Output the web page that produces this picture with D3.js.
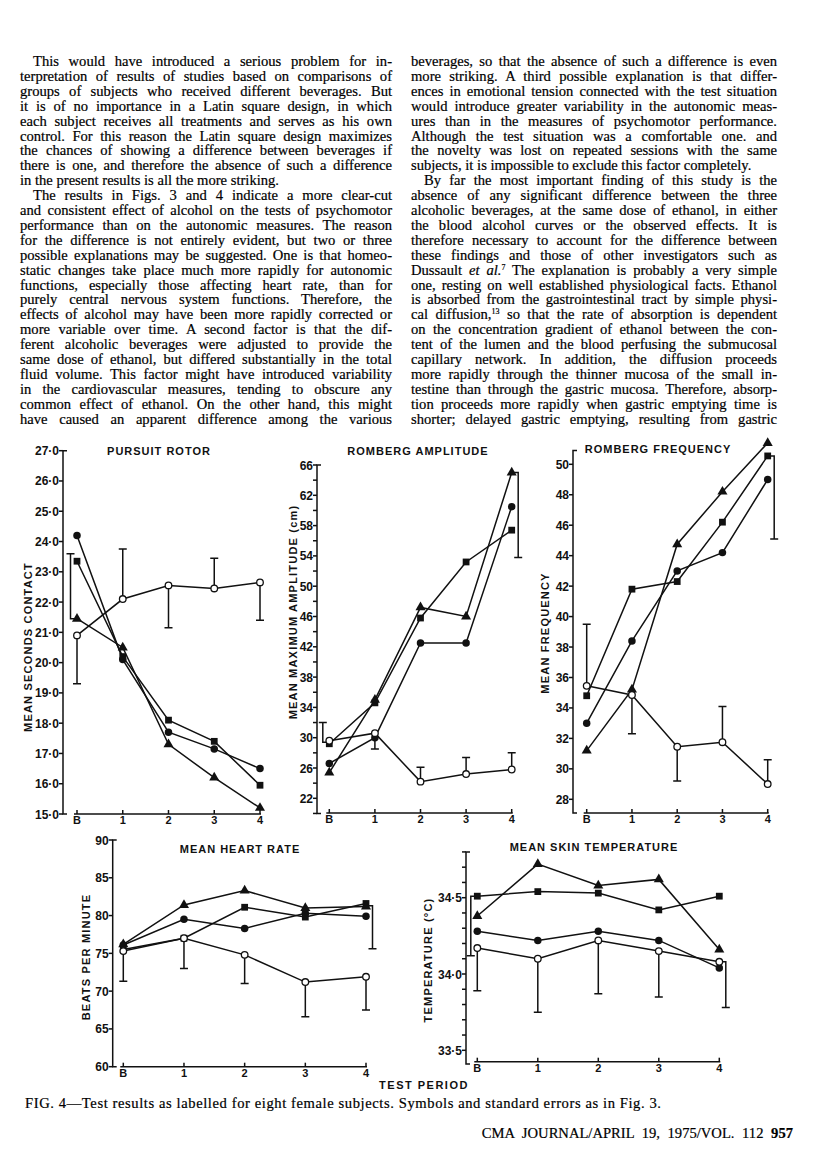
<!DOCTYPE html>
<html>
<head>
<meta charset="utf-8">
<script src="https://cdn.jsdelivr.net/npm/d3@7/dist/d3.min.js"></script>
<style>
body { margin: 0; background: #fff; }
svg { display: block; }
.body-text { font-family: "Liberation Serif", "Times New Roman", serif; font-size: 14.6px; fill: #000; stroke: #000; stroke-width: 0.2px; }
.chart-text { font-family: "Liberation Sans", Arial, sans-serif; font-weight: bold; fill: #111; }
</style>
</head>
<body>
<script>
var periods = ["B", "1", "2", "3", "4"];

// PURSUIT ROTOR - mean seconds contact
var rotorOpen     = [20.9, 22.1, 22.55, 22.45, 22.65];
var rotorCircle   = [24.2, 20.1, 17.7, 17.15, 16.5];
var rotorSquare   = [23.35, 20.2, 18.1, 17.4, 15.95];
var rotorTriangle = [21.45, 20.5, 17.3, 16.2, 15.2];
var rotorErr      = [19.3, 23.75, 21.15, 23.45, 21.4];
var rotorBrackets = [{period: "B", side: "left", from: 21.45, to: 23.6}];
var rotorTicks    = [15, 16, 17, 18, 19, 20, 21, 22, 23, 24, 25, 26, 27];

// ROMBERG AMPLITUDE - mean maximum amplitude (cm)
var ampOpen     = [29.6, 30.6, 24.2, 25.2, 25.8];
var ampCircle   = [26.6, 30.0, 42.5, 42.5, 60.5];
var ampSquare   = [29.2, 34.6, 45.8, 53.2, 57.4];
var ampTriangle = [25.4, 35.0, 47.2, 46.0, 65.0];
var ampErr      = [null, 28.5, 26.1, 27.4, 28.0];
var ampBrackets = [{period: "B", side: "left", from: 29.4, to: 32.0},
                   {period: "4", side: "right", from: 65.0, to: 53.8}];
var ampTicks    = [22, 26, 30, 34, 38, 42, 46, 50, 54, 58, 62, 66];
var ampMinor    = [20, 24, 28, 32, 36, 40, 44, 48, 52, 56, 60, 64];

// ROMBERG FREQUENCY - mean frequency
var freqOpen     = [35.45, 34.85, 31.45, 31.75, 29.0];
var freqCircle   = [33.0, 38.4, 43.0, 44.2, 49.0];
var freqSquare   = [34.8, 41.8, 42.3, 46.2, 50.55];
var freqTriangle = [31.2, 35.2, 44.75, 48.2, 51.4];
var freqErr      = [39.5, 32.3, 29.2, 34.1, 30.6];
var freqBrackets = [{period: "4", side: "right", from: 50.55, to: 45.1}];
var freqTicks    = [28, 30, 32, 34, 36, 38, 40, 42, 44, 46, 48, 50];

// MEAN HEART RATE - beats per minute
var heartOpen     = [75.3, 77.0, 74.8, 71.2, 71.9];
var heartCircle   = [76.1, 79.5, 78.3, 80.3, 79.9];
var heartSquare   = [75.5, 77.0, 81.1, 79.8, 81.6];
var heartTriangle = [76.2, 81.4, 83.3, 81.0, 81.2];
var heartErr      = [71.3, 73.0, 71.0, 66.6, 67.5];
var heartBrackets = [{period: "4", side: "right", from: 81.3, to: 75.6}];
var heartTicks    = [60, 65, 70, 75, 80, 85, 90];

// MEAN SKIN TEMPERATURE - temperature (°C)
var skinOpen     = [34.17, 34.10, 34.22, 34.15, 34.08];
var skinCircle   = [34.28, 34.22, 34.28, 34.22, 34.04];
var skinSquare   = [34.51, 34.54, 34.53, 34.42, 34.51];
var skinTriangle = [34.38, 34.72, 34.58, 34.62, 34.16];
var skinErr      = [33.89, 33.75, 33.87, 33.85, null];
var skinBrackets = [{period: "B", side: "left", from: 34.51, to: 34.12},
                    {period: "4", side: "right", from: 34.08, to: 33.78}];
var skinTicks    = [33.5, 34.0, 34.5];
var skinMinor    = [33.6, 33.7, 33.8, 33.9, 34.1, 34.2, 34.3, 34.4, 34.6, 34.7, 34.8];

// article text, "  " at start = new paragraph, {i:..} italic, {s:..} superscript
var leftLines = [
  "  This would have introduced a serious problem for in-",
  "terpretation of results of studies based on comparisons of",
  "groups of subjects who received different beverages. But",
  "it is of no importance in a Latin square design, in which",
  "each subject receives all treatments and serves as his own",
  "control. For this reason the Latin square design maximizes",
  "the chances of showing a difference between beverages if",
  "there is one, and therefore the absence of such a difference",
  "in the present results is all the more striking.",
  "  The results in Figs. 3 and 4 indicate a more clear-cut",
  "and consistent effect of alcohol on the tests of psychomotor",
  "performance than on the autonomic measures. The reason",
  "for the difference is not entirely evident, but two or three",
  "possible explanations may be suggested. One is that homeo-",
  "static changes take place much more rapidly for autonomic",
  "functions, especially those affecting heart rate, than for",
  "purely central nervous system functions. Therefore, the",
  "effects of alcohol may have been more rapidly corrected or",
  "more variable over time. A second factor is that the dif-",
  "ferent alcoholic beverages were adjusted to provide the",
  "same dose of ethanol, but differed substantially in the total",
  "fluid volume. This factor might have introduced variability",
  "in the cardiovascular measures, tending to obscure any",
  "common effect of ethanol. On the other hand, this might",
  "have caused an apparent difference among the various"
];
var rightLines = [
  "beverages, so that the absence of such a difference is even",
  "more striking. A third possible explanation is that differ-",
  "ences in emotional tension connected with the test situation",
  "would introduce greater variability in the autonomic meas-",
  "ures than in the measures of psychomotor performance.",
  "Although the test situation was a comfortable one. and",
  "the novelty was lost on repeated sessions with the same",
  "subjects, it is impossible to exclude this factor completely.",
  "  By far the most important finding of this study is the",
  "absence of any significant difference between the three",
  "alcoholic beverages, at the same dose of ethanol, in either",
  "the blood alcohol curves or the observed effects. It is",
  "therefore necessary to account for the difference between",
  "these findings and those of other investigators such as",
  "Dussault {i:et al.}{s:7} The explanation is probably a very simple",
  "one, resting on well established physiological facts. Ethanol",
  "is absorbed from the gastrointestinal tract by simple physi-",
  "cal diffusion,{s:13} so that the rate of absorption is dependent",
  "on the concentration gradient of ethanol between the con-",
  "tent of the lumen and the blood perfusing the submucosal",
  "capillary network. In addition, the diffusion proceeds",
  "more rapidly through the thinner mucosa of the small in-",
  "testine than through the gastric mucosa. Therefore, absorp-",
  "tion proceeds more rapidly when gastric emptying time is",
  "shorter; delayed gastric emptying, resulting from gastric"
];

var svg = d3.select("body").append("svg")
    .attr("width", 816)
    .attr("height", 1175);

svg.append("rect").attr("width", 816).attr("height", 1175).attr("fill", "#fff");

var lineHeight = 14.9;
var firstBase = 66;

function drawColumn(lines, x0, width, indent) {
    var g = svg.append("g").attr("class", "body-text");
    lines.forEach(function(raw, i) {
        var isPara = raw.indexOf("  ") === 0;
        var txt = raw.replace(/^\s+/, "");
        var next = lines[i + 1];
        var justify = !(next && next.indexOf("  ") === 0);
        var x = x0 + (isPara ? indent : 0);
        var w = width - (isPara ? indent : 0);
        var t = g.append("text")
            .attr("x", x)
            .attr("y", firstBase + i * lineHeight);
        var parts = txt.split(/(\{[is]:[^}]*\})/);
        var shifted = false;
        parts.forEach(function(p) {
            if (!p) return;
            var m = p.match(/^\{([is]):([^}]*)\}$/);
            var s = t.append("tspan");
            if (m && m[1] == "i") {
                s.text(m[2]).style("font-style", "italic");
                if (shifted) { s.attr("dy", 5); shifted = false; }
            } else if (m && m[1] == "s") {
                s.text(m[2]).attr("font-size", 8).attr("dy", -5);
                shifted = true;
            } else {
                s.text(p);
                if (shifted) { s.attr("dy", 5); shifted = false; }
            }
        });
        var natural = t.node().getComputedTextLength();
        var plain = txt.replace(/\{[is]:([^}]*)\}/g, "$1");
        var spaces = (plain.match(/ /g) || []).length;
        var extra = w - natural;
        if (!justify && extra >= 0) return;
        // squeeze letters a little when the line is too long for the column
        var ws = spaces > 0 ? extra / spaces : 0;
        if (ws < -1) {
            ws = -1;
            var rest = extra + spaces;
            t.attr("letter-spacing", rest / (plain.length - 1));
        }
        t.attr("word-spacing", ws);
    });
}

drawColumn(leftLines, 20, 372, 13);
drawColumn(rightLines, 411, 366, 13);

var panels = [
    {title: "PURSUIT ROTOR", titleX: 159, titleY: 455,
     ylabel: "MEAN SECONDS CONTACT", ylabelX: 32, ylabelY: 647,
     open: rotorOpen, circle: rotorCircle, square: rotorSquare, triangle: rotorTriangle,
     err: rotorErr, brackets: rotorBrackets, ticks: rotorTicks, minor: [],
     fmt: function(v) { return v.toFixed(1).replace(".", "\u00b7"); },
     domain: [15, 27], range: [814, 450.7], axisTop: 27, axisBottom: 15,
     axisX: 63, xB: 77, x4: 260, baseY: 814},
    {title: "ROMBERG AMPLITUDE", titleX: 418, titleY: 455,
     ylabel: "MEAN MAXIMUM AMPLITUDE (cm)", ylabelX: 297, ylabelY: 612,
     open: ampOpen, circle: ampCircle, square: ampSquare, triangle: ampTriangle,
     err: ampErr, brackets: ampBrackets, ticks: ampTicks, minor: ampMinor,
     fmt: function(v) { return String(v); },
     domain: [22, 66], range: [798.3, 465], axisTop: 66, axisBottom: 20,
     axisX: 317, xB: 329.3, x4: 511.7, baseY: 813},
    {title: "ROMBERG FREQUENCY", titleX: 658, titleY: 453,
     ylabel: "MEAN FREQUENCY", ylabelX: 549, ylabelY: 633,
     open: freqOpen, circle: freqCircle, square: freqSquare, triangle: freqTriangle,
     err: freqErr, brackets: freqBrackets, ticks: freqTicks, minor: [],
     fmt: function(v) { return String(v); },
     domain: [28, 50], range: [799.3, 464.3], axisTop: 50.9, axisBottom: 27.1,
     axisX: 573, xB: 586.7, x4: 767.7, baseY: 813},
    {title: "MEAN HEART RATE", titleX: 240, titleY: 853,
     ylabel: "BEATS PER MINUTE", ylabelX: 90, ylabelY: 957,
     open: heartOpen, circle: heartCircle, square: heartSquare, triangle: heartTriangle,
     err: heartErr, brackets: heartBrackets, ticks: heartTicks, minor: [],
     fmt: function(v) { return String(v); },
     domain: [60, 90], range: [1066.7, 840], axisTop: 90, axisBottom: 60,
     axisX: 112.7, xB: 123.3, x4: 366, baseY: 1066.7},
    {title: "MEAN SKIN TEMPERATURE", titleX: 594, titleY: 851,
     ylabel: "TEMPERATURE (\u00b0C)", ylabelX: 432, ylabelY: 960,
     open: skinOpen, circle: skinCircle, square: skinSquare, triangle: skinTriangle,
     err: skinErr, brackets: skinBrackets, ticks: skinTicks, minor: skinMinor,
     fmt: function(v) { return v.toFixed(1).replace(".", "\u00b7"); },
     domain: [33.5, 34.5], range: [1050.3, 897.7], axisTop: 34.8, axisBottom: 33.41,
     axisX: 466, xB: 477.3, x4: 719.3, baseY: 1061.7}
];

function drawPanel(p) {
    var g = svg.append("g");
    var x = d3.scalePoint().domain(periods).range([p.xB, p.x4]);
    var y = d3.scaleLinear().domain(p.domain).range(p.range);
    var stroke = "#111";

    // y axis
    var ya = g.append("g").attr("stroke", stroke).attr("stroke-width", 1.5).attr("fill", "none");
    ya.append("path")
        .attr("d", "M" + (p.axisX + 4) + "," + y(p.axisTop) + "H" + p.axisX +
                   "V" + y(p.axisBottom) + "H" + (p.axisX + 4));
    p.ticks.concat(p.minor).forEach(function(v) {
        ya.append("line")
            .attr("x1", p.axisX - 4).attr("x2", p.axisX)
            .attr("y1", y(v)).attr("y2", y(v));
    });
    g.selectAll(".ytick").data(p.ticks).enter().append("text")
        .attr("class", "chart-text")
        .attr("x", p.axisX - 4)
        .attr("y", function(d) { return y(d) + 4.5; })
        .attr("text-anchor", "end")
        .attr("font-size", 12)
        .text(p.fmt);

    // x axis
    var xa = g.append("g").attr("stroke", stroke).attr("stroke-width", 1.5);
    xa.append("line")
        .attr("x1", x("B") - 3).attr("x2", x("4") + 1)
        .attr("y1", p.baseY).attr("y2", p.baseY);
    periods.forEach(function(d) {
        xa.append("line")
            .attr("x1", x(d)).attr("x2", x(d))
            .attr("y1", p.baseY - 4).attr("y2", p.baseY);
    });
    g.selectAll(".xtick").data(periods).enter().append("text")
        .attr("class", "chart-text")
        .attr("x", function(d) { return x(d); })
        .attr("y", p.baseY + 10)
        .attr("text-anchor", "middle")
        .attr("font-size", 11)
        .text(function(d) { return d; });

    // title and y label
    g.append("text").attr("class", "chart-text")
        .attr("x", p.titleX).attr("y", p.titleY)
        .attr("text-anchor", "middle").attr("font-size", 11)
        .attr("letter-spacing", 1)
        .text(p.title);
    g.append("text").attr("class", "chart-text")
        .attr("transform", "translate(" + p.ylabelX + "," + p.ylabelY + ") rotate(-90)")
        .attr("text-anchor", "middle").attr("font-size", 11)
        .attr("letter-spacing", 1.2)
        .text(p.ylabel);

    var line = d3.line()
        .defined(function(d) { return d != null; })
        .x(function(d, i) { return x(periods[i]); })
        .y(function(d) { return y(d); });

    var lines = g.append("g").attr("fill", "none").attr("stroke", stroke).attr("stroke-width", 1.5);
    [p.circle, p.square, p.triangle, p.open].forEach(function(s) {
        lines.append("path").attr("d", line(s));
    });

    // standard error bars for the open series
    var bars = g.append("g").attr("fill", "none").attr("stroke", stroke).attr("stroke-width", 1.5);
    p.err.forEach(function(e, i) {
        if (e == null) return;
        var cx = x(periods[i]);
        bars.append("path")
            .attr("d", "M" + cx + "," + y(p.open[i]) + "V" + y(e) +
                       "M" + (cx - 4) + "," + y(e) + "H" + (cx + 4));
    });
    p.brackets.forEach(function(b) {
        var cx = x(b.period);
        var bx = b.side == "left" ? cx - 6.5 : cx + 6.5;
        bars.append("path")
            .attr("d", "M" + cx + "," + y(b.from) + "H" + bx + "V" + y(b.to) +
                       "M" + (bx - 4) + "," + y(b.to) + "H" + (bx + 4));
    });

    // markers
    var sym = {
        circle: d3.symbol().type(d3.symbolCircle).size(44),
        square: d3.symbol().type(d3.symbolSquare).size(46),
        triangle: d3.symbol().type(d3.symbolTriangle).size(44)
    };
    [["circle", p.circle], ["square", p.square], ["triangle", p.triangle]].forEach(function(pair) {
        g.append("g").selectAll("path").data(pair[1]).enter().append("path")
            .attr("transform", function(d, i) { return "translate(" + x(periods[i]) + "," + y(d) + ")"; })
            .attr("d", sym[pair[0]]())
            .attr("fill", stroke);
    });
    g.append("g").selectAll("circle").data(p.open).enter().append("circle")
        .attr("cx", function(d, i) { return x(periods[i]); })
        .attr("cy", function(d) { return y(d); })
        .attr("r", 3.3)
        .attr("fill", "#fff")
        .attr("stroke", stroke)
        .attr("stroke-width", 1.3);
}

panels.forEach(drawPanel);

svg.append("text").attr("class", "chart-text")
    .attr("x", 424).attr("y", 1089)
    .attr("text-anchor", "middle").attr("font-size", 11)
    .attr("letter-spacing", 1.5)
    .text("TEST PERIOD");

svg.append("text").attr("class", "body-text")
    .attr("x", 25).attr("y", 1108)
    .attr("font-size", 13)
    .attr("textLength", 636).attr("lengthAdjust", "spacing")
    .text("FIG. 4\u2014Test results as labelled for eight female subjects. Symbols and standard errors as in Fig. 3.");

var foot = svg.append("text").attr("class", "body-text")
    .attr("x", 793).attr("y", 1138)
    .attr("text-anchor", "end").attr("font-size", 13.5);
foot.append("tspan").text("CMA JOURNAL/APRIL 19, 1975/VOL. 112  ").attr("word-spacing", 4);
foot.append("tspan").text("957").attr("font-weight", "bold");
</script>
</body>
</html>
